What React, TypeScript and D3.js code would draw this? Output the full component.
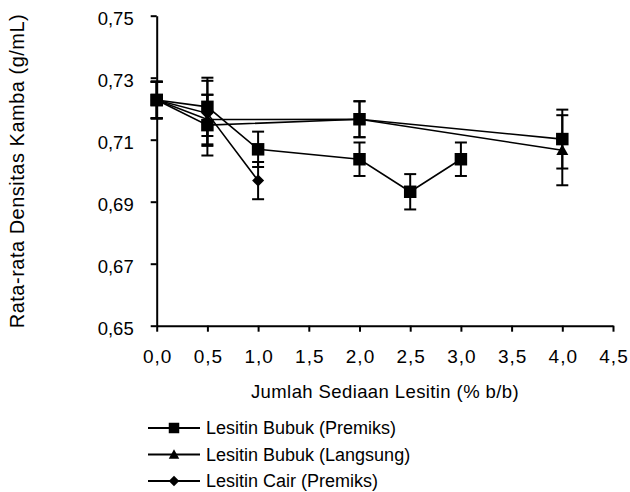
import { useEffect, useRef } from "react";
import * as d3 from "d3";

const xTicks = [0, 0.5, 1, 1.5, 2, 2.5, 3, 3.5, 4, 4.5];
const yTicks = [0.65, 0.67, 0.69, 0.71, 0.73, 0.75];

// Lesitin Bubuk (Premiks)
const premiksX = [0, 0.5, 1, 2, 2.5, 3];
const premiksY = [0.7228, 0.7206, 0.7069, 0.7037, 0.6932, 0.7037];
const premiksErr = [0.0059, 0.0094, 0.0057, 0.0054, 0.0057, 0.0054];

// Lesitin Bubuk (Langsung)
const langsungX = [0, 0.5, 2, 4];
const langsungY = [0.7228, 0.7165, 0.7166, 0.7066];
const langsungErr = [0.0059, 0.008, 0.0058, 0.0113];

// Lesitin Cair (Premiks)
const cairX = [0, 0.5, 1];
const cairY = [0.7228, 0.7185, 0.6968];
const cairErr = [0.0059, 0.0105, 0.006];

// square series with no visible legend row
const extraX = [0, 0.5, 2, 4];
const extraY = [0.7228, 0.7147, 0.7166, 0.7102];
const extraErr = [0.0059, 0.0098, 0.0058, 0.0095];

const legendNames = [
  "Lesitin Bubuk (Premiks)",
  "Lesitin Bubuk (Langsung)",
  "Lesitin Cair (Premiks)",
];

const FONT = "'Liberation Sans', Arial, sans-serif";

// marker shapes, drawn around 0,0
const markerPath = (m: string, s: number) => {
  const h = s / 2;
  if (m === "square") return `M${-h},${-h}H${h}V${h}H${-h}Z`;
  if (m === "triangle") return `M0,${-h}L${h},${h * 0.8}L${-h},${h * 0.8}Z`;
  return `M0,${-h}L${h},0L0,${h}L${-h},0Z`;
};

export default function App() {
  const ref = useRef<SVGSVGElement>(null);

  useEffect(() => {
    const width = 630;
    const height = 492;
    const svg = d3.select(ref.current);
    svg.selectAll("*").remove();
    svg.attr("viewBox", `0 0 ${width} ${height}`);

    const x = d3.scaleLinear().domain([0, 4.5]).range([156.7, 613]);
    const y = d3.scaleLinear().domain([0.65, 0.75]).range([325.7, 15.7]);

    const series = [
      { xs: extraX, ys: extraY, es: extraErr, marker: "square" },
      { xs: premiksX, ys: premiksY, es: premiksErr, marker: "square" },
      { xs: langsungX, ys: langsungY, es: langsungErr, marker: "triangle" },
      { xs: cairX, ys: cairY, es: cairErr, marker: "diamond" },
    ].map((s) => ({
      marker: s.marker,
      pts: s.xs.map((v, i) => ({ x: v, y: s.ys[i], e: s.es[i] })),
    }));

    // axes
    svg
      .append("g")
      .attr("transform", `translate(0,${y(0.65)})`)
      .call(
        d3
          .axisBottom(x)
          .tickValues(xTicks)
          .tickSize(6)
          .tickSizeOuter(0)
          .tickFormat((d) => d3.format(".1f")(d as number).replace(".", ",")),
      )
      .call((g) => g.select(".domain").attr("stroke", "#000").attr("stroke-width", 2))
      .call((g) => g.selectAll(".tick line").attr("stroke", "#000").attr("stroke-width", 2))
      .call((g) =>
        g
          .selectAll(".tick text")
          .attr("y", 24)
          .attr("dy", "0.71em")
          .attr("dx", 0.5)
          .attr("fill", "#000")
          .attr("font-size", 19)
          .attr("letter-spacing", 1)
          .attr("font-family", FONT),
      );

    svg
      .append("g")
      .attr("transform", `translate(${x(0)},0)`)
      .call(
        d3
          .axisLeft(y)
          .tickValues(yTicks)
          .tickSize(6)
          .tickSizeOuter(0)
          .tickFormat((d) => d3.format(".2f")(d as number).replace(".", ",")),
      )
      .call((g) => g.select(".domain").attr("stroke", "#000").attr("stroke-width", 2))
      .call((g) => g.selectAll(".tick line").attr("stroke", "#000").attr("stroke-width", 2))
      .call((g) =>
        g
          .selectAll(".tick text")
          .attr("x", -23)
          .attr("dy", "0.5em")
          .attr("fill", "#000")
          .attr("font-size", 18.5)
          .attr("font-family", FONT),
      );

    // error bars
    const eb = svg.append("g").attr("stroke", "#000").attr("stroke-width", 2);
    series.forEach((s) => {
      s.pts.forEach((p) => {
        const cx = x(p.x);
        eb.append("line")
          .attr("x1", cx)
          .attr("x2", cx)
          .attr("y1", y(p.y + p.e))
          .attr("y2", y(p.y - p.e));
        [p.y + p.e, p.y - p.e].forEach((v) => {
          eb.append("line").attr("x1", cx - 6).attr("x2", cx + 6).attr("y1", y(v)).attr("y2", y(v));
        });
      });
    });

    // lines
    const line = d3
      .line<{ x: number; y: number }>()
      .x((d) => x(d.x))
      .y((d) => y(d.y));
    series.forEach((s) => {
      svg
        .append("path")
        .attr("d", line(s.pts))
        .attr("fill", "none")
        .attr("stroke", "#000")
        .attr("stroke-width", 1.6);
    });

    // markers
    const sizes: Record<string, number> = { square: 12.5, triangle: 12, diamond: 12 };
    series.forEach((s) => {
      svg
        .append("g")
        .selectAll("path")
        .data(s.pts)
        .join("path")
        .attr("d", markerPath(s.marker, sizes[s.marker]))
        .attr("transform", (d) => `translate(${x(d.x)},${y(d.y)})`)
        .attr("fill", "#000");
    });

    // axis titles
    svg
      .append("text")
      .attr("transform", `translate(24,171) rotate(-90)`)
      .attr("text-anchor", "middle")
      .attr("font-size", 20)
      .attr("letter-spacing", 0.5)
      .attr("font-family", FONT)
      .text("Rata-rata Densitas Kamba (g/mL)");

    svg
      .append("text")
      .attr("x", 385)
      .attr("y", 398)
      .attr("text-anchor", "middle")
      .attr("font-size", 18.5)
      .attr("letter-spacing", 0.4)
      .attr("font-family", FONT)
      .text("Jumlah Sediaan Lesitin (% b/b)");

    // legend
    const legendMarkers = ["square", "triangle", "diamond"];
    const leg = svg.append("g");
    legendNames.forEach((name, i) => {
      const ly = 428 + i * 26.5;
      leg
        .append("line")
        .attr("x1", 148)
        .attr("x2", 200)
        .attr("y1", ly)
        .attr("y2", ly)
        .attr("stroke", "#000")
        .attr("stroke-width", 2);
      leg
        .append("path")
        .attr("d", markerPath(legendMarkers[i], 10.5))
        .attr("transform", `translate(174,${ly})`)
        .attr("fill", "#000");
      leg
        .append("text")
        .attr("x", 206)
        .attr("y", ly)
        .attr("dy", "0.36em")
        .attr("font-size", 18)
        .attr("font-family", FONT)
        .text(name);
    });
  }, []);

  return (
    <div style={{ position: "absolute", left: 0, top: 0 }}>
      <svg ref={ref} width={630} height={492} style={{ display: "block" }} />
    </div>
  );
}
